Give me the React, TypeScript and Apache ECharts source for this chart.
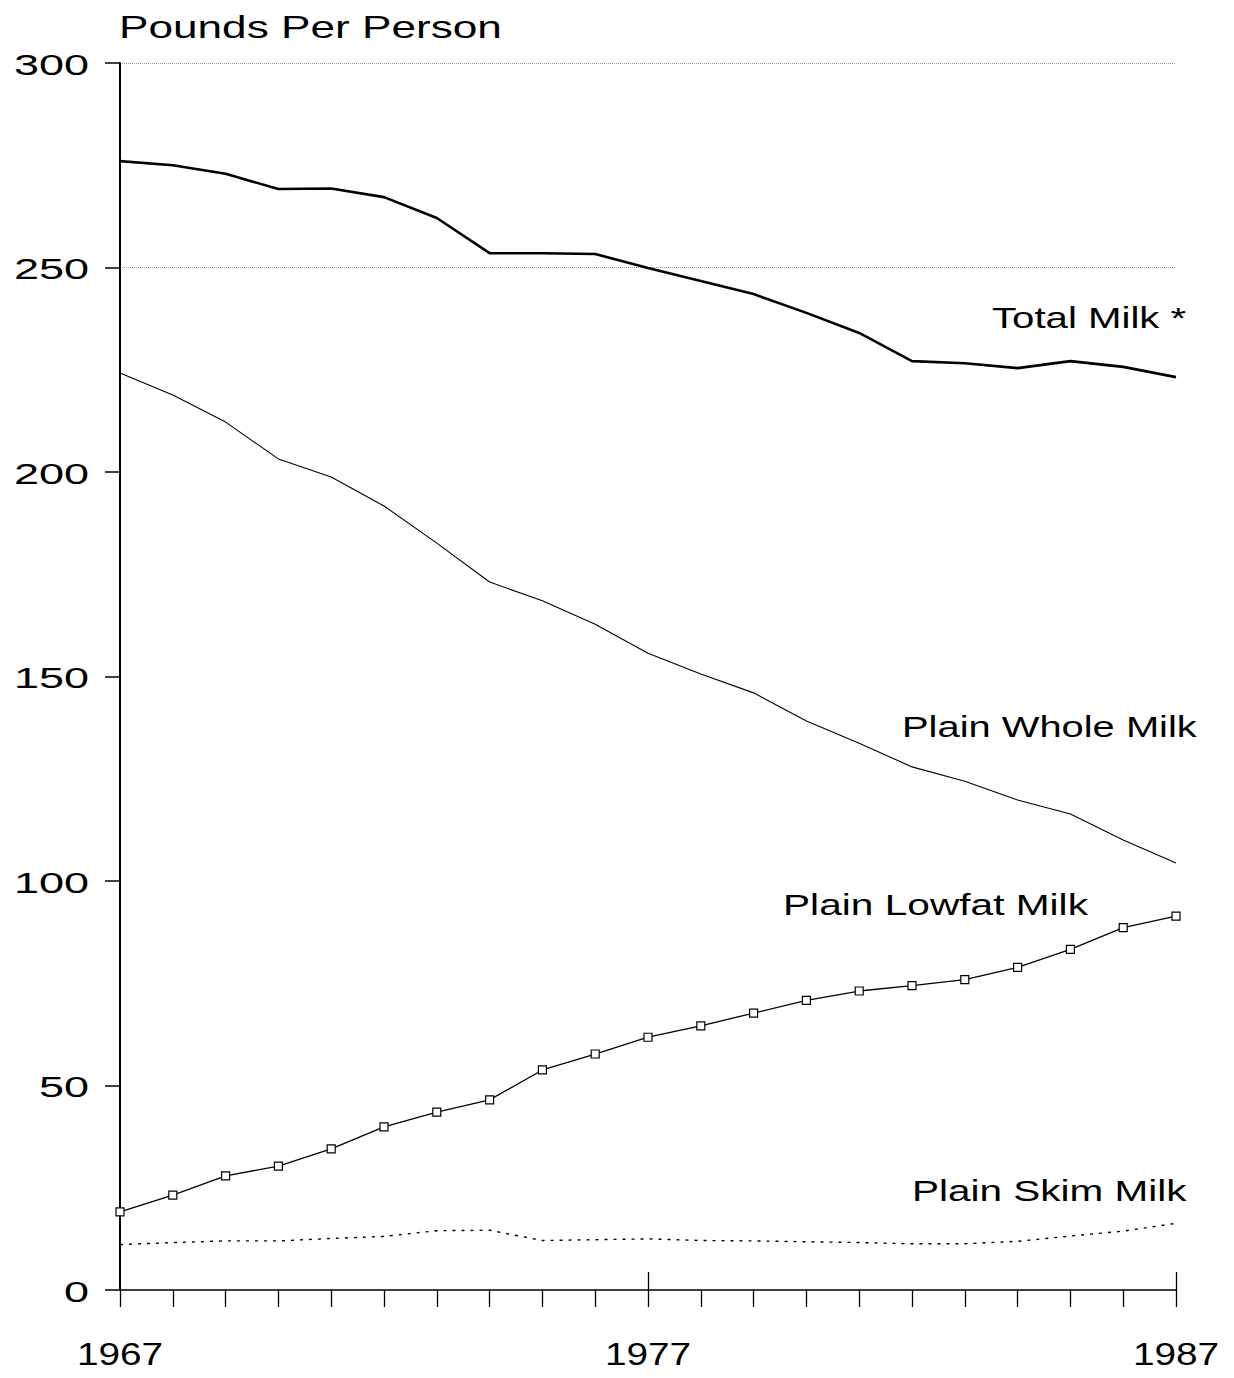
import React, { useEffect, useRef } from "react";
import * as echarts from "echarts";

const years = ["1967","1968","1969","1970","1971","1972","1973","1974","1975","1976","1977","1978","1979","1980","1981","1982","1983","1984","1985","1986","1987"];
const totalMilk = [276, 275, 272.9, 269.2, 269.3, 267.2, 262.1, 253.5, 253.5, 253.3, 249.9, 246.7, 243.5, 238.9, 234, 227.1, 226.6, 225.4, 227.1, 225.7, 223.2];
const wholeMilk = [224.2, 218.8, 212.2, 203.2, 198.8, 191.7, 182.6, 173.1, 168.5, 162.8, 155.7, 150.6, 146, 139.1, 133.7, 127.9, 124.4, 119.8, 116.4, 110, 104.4];
const lowfatMilk = [19.1, 23.2, 27.9, 30.3, 34.5, 39.9, 43.5, 46.5, 53.8, 57.7, 61.8, 64.6, 67.7, 70.8, 73.1, 74.4, 75.9, 78.9, 83.3, 88.6, 91.4];
const skimMilk = [11.1, 11.6, 12.0, 12.0, 12.6, 13.1, 14.5, 14.6, 12.1, 12.3, 12.5, 12.1, 12.0, 11.8, 11.6, 11.3, 11.3, 11.9, 13.2, 14.4, 16.3];
const yTickValues = [0, 50, 100, 150, 200, 250, 300];
const xLabelIndexes = [0, 10, 20];

const FONT = "'Liberation Sans', Arial, Helvetica, sans-serif";

function txt(text: string, x: number, y: number, size: number, sx: number, align: string) {
  return {
    type: "text",
    x,
    y,
    scaleX: sx,
    silent: true,
    style: {
      text,
      fontSize: size,
      fontFamily: FONT,
      fill: "#000",
      textAlign: align,
      textVerticalAlign: "middle",
      align,
      verticalAlign: "middle",
    },
  };
}

export default function App() {
  const ref = useRef<HTMLDivElement>(null);
  useEffect(() => {
    if (!ref.current) return;
    const chart = echarts.init(ref.current, undefined, { renderer: "svg" });
    const option: any = {
      animation: false,
      backgroundColor: "#fff",
      grid: { left: 120, right: 58, top: 63, bottom: 88, containLabel: false },
      xAxis: [
        {
          type: "category",
          data: years,
          boundaryGap: false,
          axisLine: { show: true, lineStyle: { color: "#000", width: 1.5 } },
          axisTick: { show: true, interval: 0, length: 17, inside: false, lineStyle: { color: "#000", width: 1.3 } },
          axisLabel: { show: false },
          splitLine: { show: false },
        },
        {
          type: "category",
          data: years,
          boundaryGap: false,
          position: "bottom",
          axisLine: { show: false },
          axisTick: {
            show: true,
            inside: true,
            length: 18,
            interval: (index: number) => index === 10 || index === 20,
            lineStyle: { color: "#000", width: 1.3 },
          },
          axisLabel: { show: false },
          splitLine: { show: false },
        },
      ],
      yAxis: {
        type: "value",
        min: 0,
        max: 300,
        interval: 50,
        axisLine: { show: true, lineStyle: { color: "#000", width: 2 } },
        axisTick: { show: true, length: 15, inside: false, lineStyle: { color: "#000", width: 1.5 } },
        axisLabel: { show: false },
        splitLine: {
          show: true,
          lineStyle: {
            type: "dotted",
            width: 1,
            color: ["rgba(0,0,0,0)", "rgba(0,0,0,0)", "rgba(0,0,0,0)", "rgba(0,0,0,0)", "rgba(0,0,0,0)", "#9a9a9a", "#9a9a9a"],
          },
        },
      },
      series: [
        {
          name: "Total Milk",
          type: "line",
          data: totalMilk,
          showSymbol: false,
          symbol: "none",
          lineStyle: { color: "#000", width: 2.6 },
        },
        {
          name: "Plain Whole Milk",
          type: "line",
          data: wholeMilk,
          showSymbol: false,
          symbol: "none",
          lineStyle: { color: "#000", width: 1.1 },
        },
        {
          name: "Plain Lowfat Milk",
          type: "line",
          data: lowfatMilk,
          symbol: "rect",
          symbolSize: 8,
          showSymbol: true,
          itemStyle: { color: "#fff", borderColor: "#000", borderWidth: 1.2 },
          lineStyle: { color: "#000", width: 1.3 },
        },
        {
          name: "Plain Skim Milk",
          type: "line",
          data: skimMilk,
          showSymbol: false,
          symbol: "none",
          lineStyle: { color: "#000", width: 1.4, type: [3, 6] },
        },
      ],
    };
    chart.setOption(option);

    const graphics: any[] = [];
    yTickValues.forEach((v) => {
      const py = chart.convertToPixel({ yAxisIndex: 0 }, v) as number;
      const px = chart.convertToPixel({ xAxisIndex: 0 }, 0) as number;
      graphics.push(txt(String(v), px - 31, py + 1, 30, 1.5, "right"));
    });
    xLabelIndexes.forEach((i) => {
      const px = chart.convertToPixel({ xAxisIndex: 0 }, i) as number;
      const py = chart.convertToPixel({ yAxisIndex: 0 }, 0) as number;
      graphics.push(txt(years[i], px, py + 64, 31, 1.25, "center"));
    });
    graphics.push(txt("Pounds Per Person", 119, 27, 32, 1.38, "left"));
    graphics.push(txt("Total Milk *", 992, 318, 30, 1.34, "left"));
    graphics.push(txt("Plain Whole Milk", 902, 726, 30, 1.33, "left"));
    graphics.push(txt("Plain Lowfat Milk", 783, 905, 30, 1.355, "left"));
    graphics.push(txt("Plain Skim Milk", 912, 1191, 30, 1.35, "left"));
    chart.setOption({ graphic: graphics });

    return () => chart.dispose();
  }, []);
  return (
    <div
      ref={ref}
      style={{ position: "fixed", left: 0, top: 0, width: 1234, height: 1378, background: "#fff" }}
    />
  );
}
